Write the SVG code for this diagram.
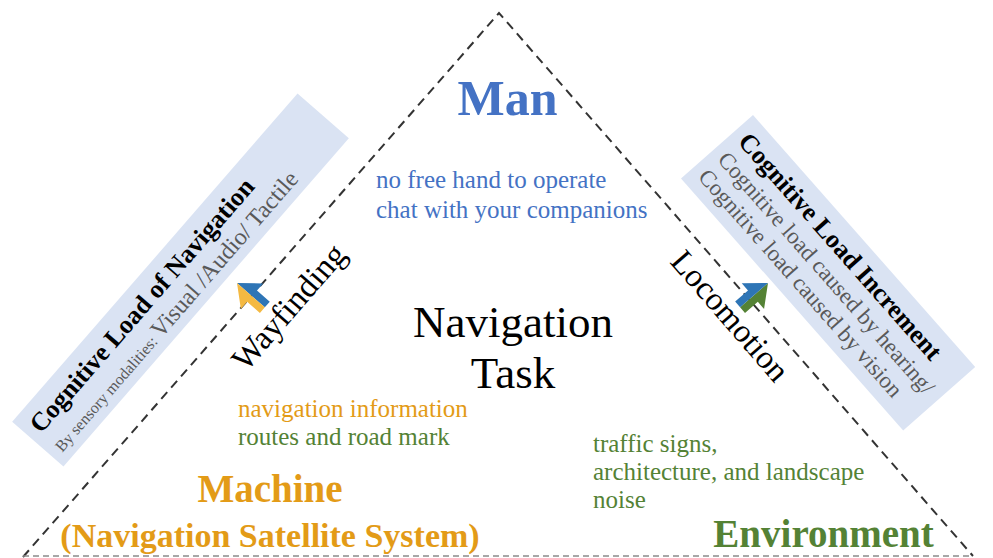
<svg xmlns="http://www.w3.org/2000/svg" width="993" height="558" viewBox="0 0 993 558">
  <style>
    text { font-family: "Liberation Serif", "Times New Roman", serif; }
    .edge { fill: none; stroke: #333333; stroke-width: 2; stroke-dasharray: 9 6; }
    .base { fill: none; stroke: #8a8a8a; stroke-width: 1.6; stroke-dasharray: 6 4; }
    .panel { fill: #DAE3F3; }
    .head { font-weight: bold; fill: #000000; font-size: 26px; }
    .note { fill: #595959; }
    .blue { fill: #4472C4; }
    .gold { fill: #E39B17; }
    .green { fill: #548235; }
    .body { font-size: 25px; }
    .big { font-weight: bold; }
  </style>

  <rect width="993" height="558" fill="#ffffff"/>

  <!-- side panels (drawn first so the edges sit on top) -->
  <g id="panel-wayfinding" transform="translate(180.5,280) rotate(-49)">
    <rect class="panel" x="-217.5" y="-34" width="435" height="68"/>
    <text class="head" x="-208" y="-4">Cognitive Load of Navigation</text>
    <text class="note" x="-208" y="24"><tspan font-size="16">By sensory modalities: </tspan><tspan font-size="24">Visual /Audio/ Tactile</tspan></text>
  </g>

  <g id="panel-locomotion" transform="translate(753,115) rotate(48.6)">
    <rect class="panel" x="0" y="0" width="336" height="96"/>
    <text class="head" x="10" y="30">Cognitive Load Increment</text>
    <text class="note" x="10" y="57" font-size="23">Cognitive load caused by hearing/</text>
    <text class="note" x="10" y="83" font-size="23">Cognitive load caused by vision</text>
  </g>

  <!-- triangle edges -->
  <g id="edges">
    <path class="edge" d="M23,557 L499,13 L973,556"/>
    <path class="base" d="M23,556 L973,556"/>
  </g>

  <!-- two-colour block arrows -->
  <g id="arrow-wayfinding" transform="translate(237,283) rotate(221.2)">
    <polygon fill="#2E75B6" points="0,0 -20,17 -20,7.5 -37,7.5 -37,0"/>
    <polygon fill="#F4B942" points="0,0 -20,-17 -20,-7.5 -37,-7.5 -37,0"/>
  </g>
  <g id="arrow-locomotion" transform="translate(768,283) rotate(-41)">
    <polygon fill="#548235" points="0,0 -20,17 -20,7.5 -37,7.5 -37,0"/>
    <polygon fill="#2E75B6" points="0,0 -20,-17 -20,-7.5 -37,-7.5 -37,0"/>
  </g>

  <!-- edge labels -->
  <g id="label-wayfinding">
    <text transform="translate(297,314) rotate(-49)" text-anchor="middle" font-size="33">Wayfinding</text>
  </g>
  <g id="label-locomotion">
    <text transform="translate(722,323) rotate(49)" text-anchor="middle" font-size="33">Locomotion</text>
  </g>

  <!-- corner nodes -->
  <g id="node-man">
    <text class="blue big" x="507.5" y="115" text-anchor="middle" font-size="50">Man</text>
    <text class="blue body" x="376" y="188">no free hand to operate</text>
    <text class="blue body" x="376" y="218">chat with your companions</text>
  </g>

  <g id="node-task">
    <text x="513" y="337" text-anchor="middle" font-size="45">Navigation</text>
    <text x="513" y="388" text-anchor="middle" font-size="45">Task</text>
  </g>

  <g id="node-machine">
    <text class="gold body" x="238" y="417">navigation information</text>
    <text class="green body" x="238" y="445">routes and road mark</text>
    <text class="gold big" x="270" y="502" text-anchor="middle" font-size="39">Machine</text>
    <text class="gold big" x="270" y="547" text-anchor="middle" font-size="34">(Navigation Satellite System)</text>
  </g>

  <g id="node-environment">
    <text class="green body" x="593" y="452">traffic signs,</text>
    <text class="green body" x="593" y="480">architecture, and landscape</text>
    <text class="green body" x="593" y="508">noise</text>
    <text class="green big" x="823.5" y="547" text-anchor="middle" font-size="39">Environment</text>
  </g>
</svg>
